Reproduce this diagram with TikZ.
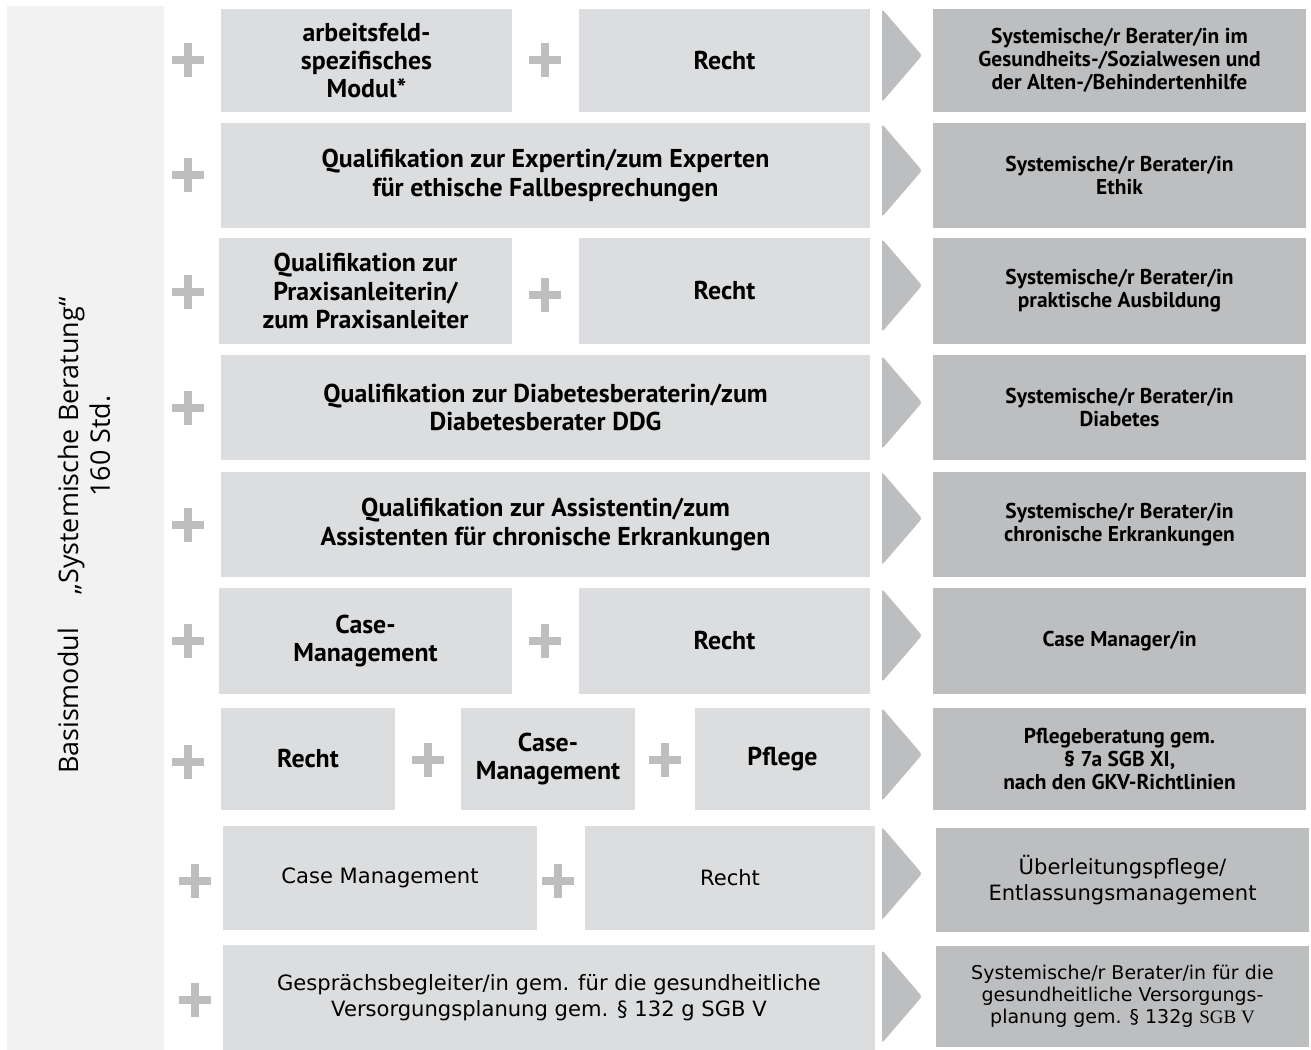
\documentclass[tikz,border=0pt]{standalone}
\usepackage{fontspec}
\setmainfont{PT Sans}
\newfontfamily\plainfont{DejaVu Sans}
\newfontfamily\sidefont{Open Sans}
\newfontfamily\seriffont{Liberation Serif}
\definecolor{panelgrey}{HTML}{F2F2F2}
\definecolor{boxgrey}{HTML}{DCDDDE}
\definecolor{resgrey}{HTML}{BDBEC0}
\definecolor{plusgrey}{HTML}{BEBEBE}
\tikzset{
  cell/.style 2 args={minimum width=#1*0.02cm, minimum height=#2*0.02cm},
  modbox/.style={fill=boxgrey, inner sep=0pt, align=center,
                 font=\bfseries\fontsize{14.7}{16}\selectfont},
  plainbox/.style={modbox, font=\plainfont\fontsize{12}{14.5}\selectfont},
  resbox/.style={fill=resgrey, inner sep=0pt, align=center,
                 font=\bfseries\fontsize{12.2}{13.2}\selectfont},
  plainres/.style={resbox, font=\plainfont\fontsize{12}{15}\selectfont},
  sidelabel/.style={rotate=90, align=center, font=\sidefont\fontsize{15.3}{18}\selectfont}
}
\newcommand{\plusat}[2]{\draw[plusgrey, line width=0.16cm]
  (#1-16,#2) -- (#1+16,#2) (#1,#2-17) -- (#1,#2+17);}

\begin{document}
\begin{tikzpicture}[x=0.02cm, y=-0.02cm]
  \useasboundingbox (0,0) rectangle (1311,1050);
  % basic module panel on the left
  \fill[panelgrey] (7,6) rectangle (164,1050);
  \node[sidelabel] (basis) at (68,701) {Basismodul};
  \node[sidelabel] (sysber) at (84,446) {„Systemische Beratung“\\160 Std.};

  % modules, row by row
  \node[modbox, cell={291}{103}] (arb) at (366.5,60.5) {arbeitsfeld-\\spezifisches\\Modul*};
  \node[modbox, cell={291}{103}] (recht1) at (724.5,60.5) {Recht};
  \node[modbox, cell={649}{105}] (ethik) at (545.5,175.5) {Qualifikation zur Expertin/zum Experten\\für ethische Fallbesprechungen};
  \node[modbox, cell={293}{106}] (praxis) at (365.5,291) {Qualifikation zur\\Praxisanleiterin/\\zum Praxisanleiter};
  \node[modbox, cell={291}{106}] (recht3) at (724.5,291) {Recht};
  \node[modbox, cell={649}{105}] (diab) at (545.5,407.5) {Qualifikation zur Diabetesberaterin/zum\\Diabetesberater DDG};
  \node[modbox, cell={649}{105}] (chron) at (545.5,524.5) {Qualifikation zur Assistentin/zum\\Assistenten für chronische Erkrankungen};
  \node[modbox, cell={293}{106}] (case6) at (365.5,641) {Case-\\Management};
  \node[modbox, cell={291}{106}] (recht6) at (724.5,641) {Recht};
  \node[modbox, cell={174}{102}] (recht7) at (308,759) {Recht};
  \node[modbox, cell={174}{102}] (case7) at (548,759) {Case-\\Management};
  \node[modbox, cell={175}{102}] (pflege) at (782.5,759) {Pflege};
  \node[plainbox, cell={314}{104}] (case8) at (380,878) {Case Management};
  \node[plainbox, cell={290}{104}] (recht8) at (730,878) {Recht};
  \node[plainbox, cell={652}{105}] (gespr) at (549,997.5) {Gesprächsbegleiter/in gem. für die gesundheitliche\\Versorgungsplanung gem. § 132 g SGB V};

  % plus signs between the modules
  \foreach \x/\y in {188/60, 545/60, 188/175, 188/292, 545/295, 188/408,
                     188/525, 188/641, 545/641, 188/762, 428/760, 665/760,
                     195/881, 558/881, 195/1000}
     { \plusat{\x}{\y} }

  % arrow heads pointing to the results
  \foreach \t in {9,124,239,356,472,589,708,827,950}
     { \fill[resgrey, rounded corners=1.5pt] (882,\t) -- (922,\t+46.5) -- (882,\t+93) -- cycle; }

  % results
  \node[resbox, cell={373}{103}] (res1) at (1119.5,60.5) {Systemische/r Berater/in im\\Gesundheits-/Sozialwesen und\\der Alten-/Behindertenhilfe};
  \node[resbox, cell={373}{105}] (res2) at (1119.5,175.5) {Systemische/r Berater/in\\Ethik};
  \node[resbox, cell={373}{106}] (res3) at (1119.5,291) {Systemische/r Berater/in\\praktische Ausbildung};
  \node[resbox, cell={373}{105}] (res4) at (1119.5,407.5) {Systemische/r Berater/in\\Diabetes};
  \node[resbox, cell={373}{105}] (res5) at (1119.5,524.5) {Systemische/r Berater/in\\chronische Erkrankungen};
  \node[resbox, cell={373}{106}] (res6) at (1119.5,641) {Case Manager/in};
  \node[resbox, cell={373}{102}] (res7) at (1119.5,759) {Pflegeberatung gem.\\§ 7a SGB XI,\\nach den GKV-Richtlinien};
  \node[plainres, cell={373}{104}] (res8) at (1122.5,880) {Überleitungspflege/\\Entlassungsmanagement};
  \node[plainres, cell={373}{101}, font=\plainfont\fontsize{10.8}{12.5}\selectfont] (res9) at (1122.5,996.5)
       {Systemische/r Berater/in für die\\gesundheitliche Versorgungs-\\planung gem. § 132g {\seriffont SGB V}};
\end{tikzpicture}
\end{document}
